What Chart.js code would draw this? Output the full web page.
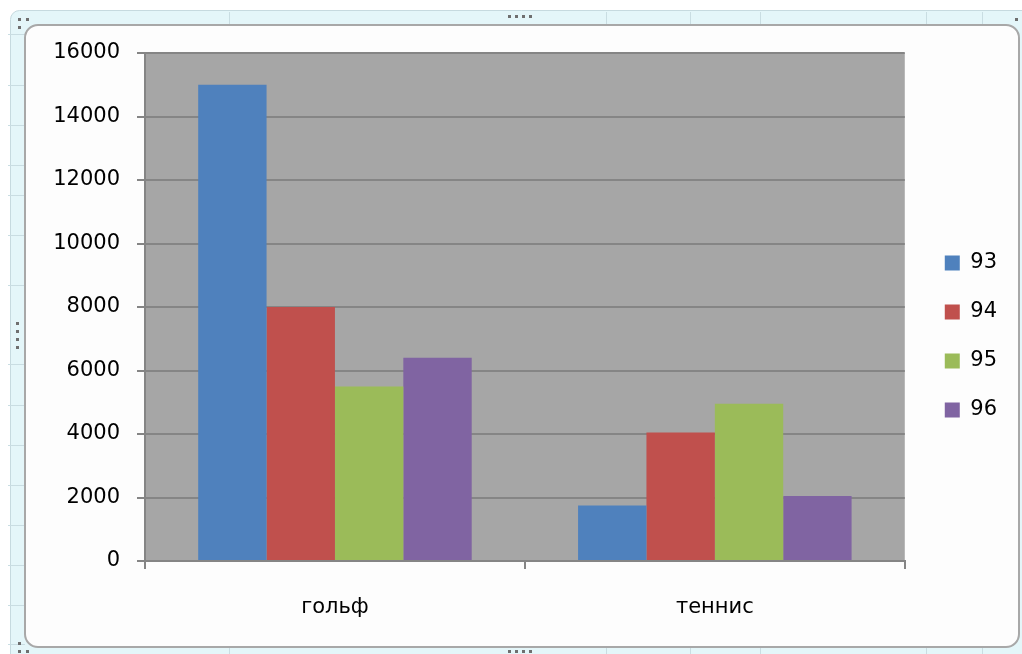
<!DOCTYPE html>
<html>
<head>
<meta charset="utf-8">
<script src="https://cdn.jsdelivr.net/npm/chart.js@4/dist/chart.umd.min.js"></script>
<style>
html,body{margin:0;padding:0;background:#fff;}
#wrap{position:relative;width:1022px;height:654px;overflow:hidden;}
canvas{display:block;}
</style>
</head>
<body>
<div id="wrap"><canvas id="c" width="1022" height="654"></canvas></div>
<script>
// ---- data ----
const categories = ['гольф', 'теннис'];
const seriesNames = ['93', '94', '95', '96'];
const values93 = [15000, 1750];
const values94 = [8000, 4050];
const values95 = [5500, 4950];
const values96 = [6400, 2050];
const yMin = 0;
const yMax = 16000;
const yStep = 2000;

// ---- styles ----
const seriesColors = ['#4F81BD', '#C0504D', '#9BBB59', '#8064A2'];
const FONT = { family: '"DejaVu Sans", sans-serif', size: 21 };
const GRID = '#858585';

function rr(ctx, x, y, w, h, r) {
  ctx.beginPath();
  ctx.moveTo(x + r, y);
  ctx.lineTo(x + w - r, y);
  ctx.arcTo(x + w, y, x + w, y + r, r);
  ctx.lineTo(x + w, y + h - r);
  ctx.arcTo(x + w, y + h, x + w - r, y + h, r);
  ctx.lineTo(x + r, y + h);
  ctx.arcTo(x, y + h, x, y + h - r, r);
  ctx.lineTo(x, y + r);
  ctx.arcTo(x, y, x + r, y, r);
  ctx.closePath();
}

const backdrop = {
  id: 'backdrop',
  beforeDraw(chart) {
    const ctx = chart.ctx;
    const W = chart.width, H = chart.height;
    ctx.save();
    ctx.fillStyle = '#ffffff';
    ctx.fillRect(0, 0, W, H);
    // spreadsheet selection band
    rr(ctx, 10.5, 10.5, W + 20, H + 20, 9);
    ctx.fillStyle = '#e4f6f9';
    ctx.fill();
    ctx.strokeStyle = '#c6dadf';
    ctx.lineWidth = 1;
    ctx.stroke();
    ctx.strokeStyle = '#c9dde2';
    [229, 606, 690, 760, 926, 982].forEach(x => {
      ctx.beginPath(); ctx.moveTo(x + 0.5, 12); ctx.lineTo(x + 0.5, 25); ctx.stroke();
      ctx.beginPath(); ctx.moveTo(x + 0.5, 648); ctx.lineTo(x + 0.5, H); ctx.stroke();
    });
    [34, 85, 125, 165, 195, 235, 285, 364, 405, 445, 485, 525, 565, 605, 644].forEach(y => {
      ctx.beginPath(); ctx.moveTo(8, y + 0.5); ctx.lineTo(25, y + 0.5); ctx.stroke();
    });
    // chart frame
    rr(ctx, 25, 25, 994, 622, 13);
    ctx.fillStyle = '#fdfdfd';
    ctx.fill();
    ctx.strokeStyle = '#a8a8a8';
    ctx.lineWidth = 2;
    ctx.stroke();
    // handles
    ctx.fillStyle = '#6f6f6f';
    const dots = [[18,18],[26,18],[18,26],[508,15],[515,15],[522,15],[529,15],[16,322],[16,330],[16,338],[16,346],
                  [1015,18],[18,642],[18,650],[26,650],[508,650],[515,650],[522,650],[529,650]];
    dots.forEach(d => ctx.fillRect(d[0], d[1], 3, 3));
    // plot area fill
    const a = chart.chartArea;
    ctx.fillStyle = '#A6A6A6';
    ctx.fillRect(a.left, a.top, a.right - a.left, a.bottom - a.top);
    ctx.restore();
  }
};

const seriesData = [values93, values94, values95, values96];
const datasets = seriesNames.map((name, i) => ({
  label: name,
  data: seriesData[i],
  backgroundColor: seriesColors[i],
  borderWidth: 0,
  categoryPercentage: 0.72,
  barPercentage: 1.0
}));

new Chart(document.getElementById('c'), {
  type: 'bar',
  data: { labels: categories, datasets },
  plugins: [backdrop],
  options: {
    responsive: false,
    animation: false,
    devicePixelRatio: 1,
    layout: { padding: { left: 0, top: 53, right: 15, bottom: 34 } },
    plugins: {
      tooltip: { enabled: false },
      legend: {
        position: 'right',
        align: 'center',
        labels: {
          font: FONT,
          color: '#000000',
          boxWidth: 15,
          boxHeight: 15,
          padding: 28
        }
      }
    },
    scales: {
      x: {
        offset: true,
        grid: { display: true, drawOnChartArea: false, drawTicks: true, tickLength: 8, color: GRID, lineWidth: 2, offset: true },
        border: { display: true, color: GRID, width: 2 },
        ticks: { font: FONT, color: '#000000', padding: 26 },
        afterFit(s) { s.height = 59; }
      },
      y: {
        min: yMin,
        max: yMax,
        ticks: { stepSize: yStep, font: FONT, color: '#000000', padding: 17, callback: v => String(v) },
        grid: { color: GRID, lineWidth: 2, tickLength: 8 },
        border: { display: true, color: GRID, width: 2 },
        afterFit(s) { s.width = 145; }
      },
      r: {
        type: 'linear',
        position: 'right',
        display: true,
        grid: { display: false },
        ticks: { display: false },
        border: { display: false },
        afterFit(s) { s.width = 12; }
      }
    }
  }
});
</script>
</body>
</html>
